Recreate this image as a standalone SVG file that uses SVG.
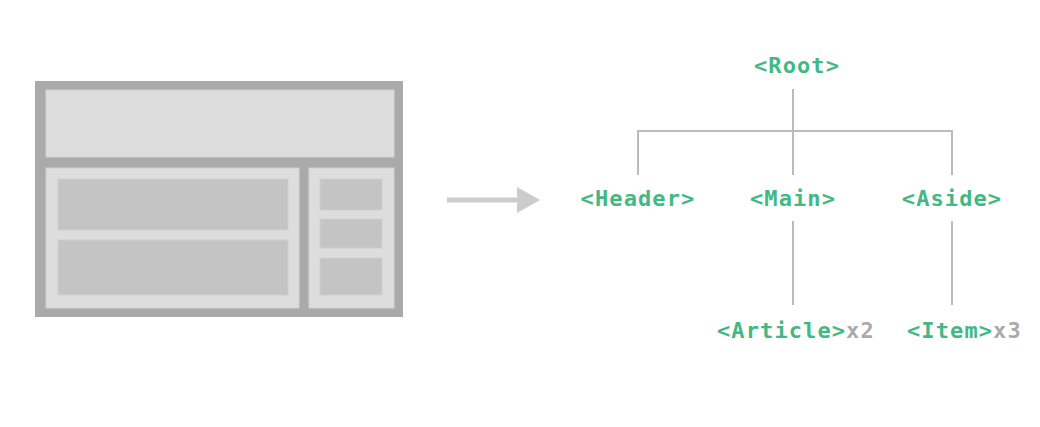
<svg xmlns="http://www.w3.org/2000/svg" width="1040" height="427" viewBox="0 0 1040 427">
<style>
.frame{fill:#aaaaaa}
.panel{fill:#dddddd;stroke:#d2d2d2;stroke-width:1}
.block{fill:#c4c4c4;stroke:#cfcfcf;stroke-width:1}
.tag{font-family:"DejaVu Sans Mono","Liberation Mono",monospace;font-weight:bold;font-size:22px;fill:#42b883;letter-spacing:1.1px}
.count{fill:#aaaaaa}
.edge{stroke:#bbbbbb;stroke-width:2;fill:none}
</style>
<rect width="1040" height="427" fill="#ffffff"/>
<g id="layout">
<rect class="frame" x="35" y="81" width="368" height="236"/>
<rect class="panel" x="46" y="90" width="348" height="67"/>
<rect class="panel" x="46" y="168" width="253" height="140"/>
<rect class="panel" x="309" y="168" width="85" height="140"/>
<rect class="block" x="58" y="179" width="230" height="51"/>
<rect class="block" x="58" y="240" width="230" height="55"/>
<rect class="block" x="320" y="179" width="62" height="31"/>
<rect class="block" x="320" y="219" width="62" height="29"/>
<rect class="block" x="320" y="258" width="62" height="37"/>
</g>
<g id="arrow">
<line x1="447" y1="200" x2="520" y2="200" stroke="#cccccc" stroke-width="5"/>
<polygon points="517,187 540,200 517,213" fill="#cccccc"/>
</g>
<g id="connectors">
<line class="edge" x1="793" y1="89" x2="793" y2="131"/>
<polyline class="edge" points="638,175 638,131 952,131 952,175"/>
<line class="edge" x1="793" y1="131" x2="793" y2="175"/>
<line class="edge" x1="793" y1="221" x2="793" y2="305"/>
<line class="edge" x1="952" y1="221" x2="952" y2="305"/>
</g>
<g id="root"><text class="tag" x="797" y="73" text-anchor="middle">&lt;Root&gt;</text></g>
<g id="header"><text class="tag" x="638" y="206" text-anchor="middle">&lt;Header&gt;</text></g>
<g id="main"><text class="tag" x="793" y="206" text-anchor="middle">&lt;Main&gt;</text></g>
<g id="aside"><text class="tag" x="952" y="206" text-anchor="middle">&lt;Aside&gt;</text></g>
<g id="article"><text class="tag" x="717" y="338">&lt;Article&gt;<tspan class="count">x2</tspan></text></g>
<g id="item"><text class="tag" x="907" y="338">&lt;Item&gt;<tspan class="count">x3</tspan></text></g>
</svg>
